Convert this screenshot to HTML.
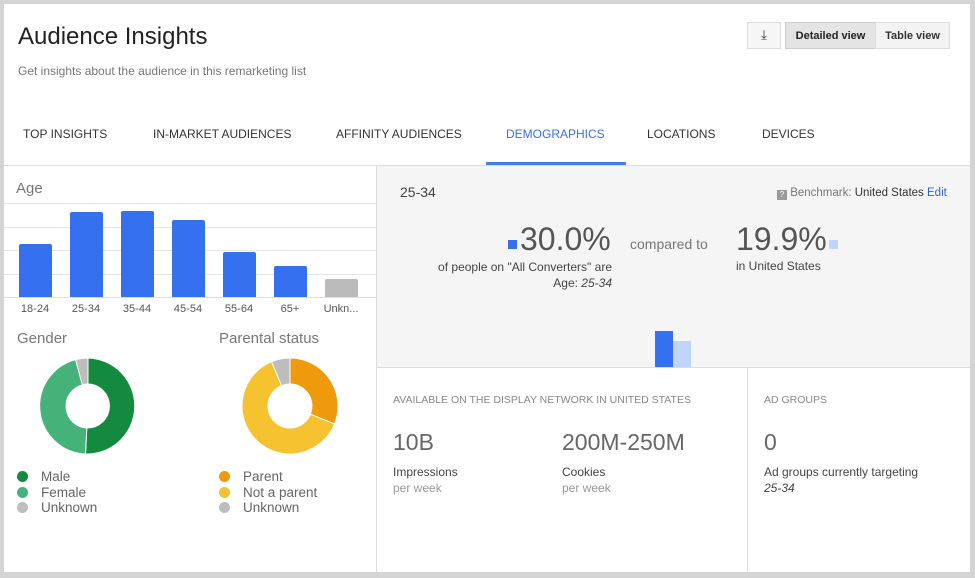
<!DOCTYPE html>
<html><head><meta charset="utf-8"><style>
*{margin:0;padding:0;box-sizing:border-box}
body{width:975px;height:578px;background:#d4d4d4;position:relative;font-family:"Liberation Sans",sans-serif;overflow:hidden}
.a{position:absolute;white-space:nowrap}
.tab{position:absolute;top:127px;font-size:12px;color:#333}
.g{position:absolute;left:4px;width:372px;height:1px;background:#e6e6e6}
.bar{position:absolute;background:#3570f0;border-radius:2px 2px 0 0;width:33px}
.lbl{position:absolute;top:303px;font-size:11px;color:#555;width:40px;text-align:center}
.dot{display:inline-block;width:11px;height:11px;border-radius:50%;margin-right:13px;vertical-align:-1px}
.leg{font-size:13.5px;color:#666;line-height:15.5px}
</style></head><body>
<div class="a" style="left:4px;top:4px;width:966px;height:568px;background:#fff"></div>
<div class="a" style="left:18px;top:23px;font-size:24px;color:#222">Audience Insights</div>
<div class="a" style="left:18px;top:64px;font-size:12px;color:#777">Get insights about the audience in this remarketing list</div>
<div class="a" style="left:747px;top:22px;width:34px;height:27px;border:1px solid #ddd;background:#f6f6f6;text-align:center;font-size:13px;line-height:24px;color:#333">⤓</div>
<div class="a" style="left:785px;top:22px;width:91px;height:27px;border:1px solid #ccc;background:#e4e4e4;font-size:11px;font-weight:bold;line-height:26px;text-align:center;color:#222">Detailed view</div>
<div class="a" style="left:875px;top:22px;width:75px;height:27px;border:1px solid #ddd;background:#f3f3f3;font-size:11px;font-weight:bold;line-height:26px;text-align:center;color:#333">Table view</div>
<div class="tab" style="left:23px">TOP INSIGHTS</div>
<div class="tab" style="left:153px">IN-MARKET AUDIENCES</div>
<div class="tab" style="left:336px">AFFINITY AUDIENCES</div>
<div class="tab" style="left:506px;color:#3570f0">DEMOGRAPHICS</div>
<div class="tab" style="left:647px">LOCATIONS</div>
<div class="tab" style="left:762px">DEVICES</div>
<div class="a" style="left:486px;top:162px;width:140px;height:3px;background:#3f7ff0"></div>
<div class="a" style="left:4px;top:165px;width:966px;height:1px;background:#ddd"></div>
<div class="a" style="left:376px;top:166px;width:1px;height:406px;background:#ddd"></div>
<div class="a" style="left:16px;top:180px;font-size:15px;color:#777">Age</div>
<div class="g" style="top:203px"></div><div class="g" style="top:227px"></div><div class="g" style="top:250px"></div><div class="g" style="top:274px"></div><div class="g" style="top:297px;background:#ddd"></div>
<div class="bar" style="left:19px;top:244px;height:53px"></div>
<div class="bar" style="left:70px;top:212px;height:85px"></div>
<div class="bar" style="left:121px;top:211px;height:86px"></div>
<div class="bar" style="left:172px;top:220px;height:77px"></div>
<div class="bar" style="left:223px;top:252px;height:45px"></div>
<div class="bar" style="left:274px;top:266px;height:31px"></div>
<div class="bar" style="left:325px;top:279px;height:18px;background:#bbb"></div>
<div class="lbl" style="left:15px">18-24</div><div class="lbl" style="left:66px">25-34</div><div class="lbl" style="left:117px">35-44</div><div class="lbl" style="left:168px">45-54</div><div class="lbl" style="left:219px">55-64</div><div class="lbl" style="left:270px">65+</div><div class="lbl" style="left:321px">Unkn...</div>
<div class="a" style="left:17px;top:330px;font-size:15px;color:#777">Gender</div>
<div class="a" style="left:219px;top:330px;font-size:15px;color:#777">Parental status</div>
<svg class="a" style="left:0;top:0" width="376" height="572">
<g stroke="#fff" stroke-width="1">
<path d="M88 358 A48 48 0 0 1 85.5 454 L86.8 428 A22 22 0 0 0 88 384Z" fill="#138a3e"/>
<path d="M85.5 454 A48 48 0 0 1 75.6 359.6 L82.3 384.8 A22 22 0 0 0 86.8 428Z" fill="#45b27a"/>
<path d="M75.6 359.6 A48 48 0 0 1 88 358 L88 384 A22 22 0 0 0 82.3 384.8Z" fill="#bdbdbd"/>
<path d="M290 358 A48 48 0 0 1 334.5 424 L310.4 414.2 A22 22 0 0 0 290 384Z" fill="#ef9a0c"/>
<path d="M334.5 424 A48 48 0 1 1 271.6 361.7 L281.6 385.7 A22 22 0 1 0 310.4 414.2Z" fill="#f5c230"/>
<path d="M271.6 361.7 A48 48 0 0 1 290 358 L290 384 A22 22 0 0 0 281.6 385.7Z" fill="#bdbdbd"/>
</g></svg>
<div class="a leg" style="left:17px;top:469px"><span class="dot" style="background:#138a3e"></span>Male<br><span class="dot" style="background:#45b27a"></span>Female<br><span class="dot" style="background:#bdbdbd"></span>Unknown</div>
<div class="a leg" style="left:219px;top:469px"><span class="dot" style="background:#ef9a0c"></span>Parent<br><span class="dot" style="background:#f5c230"></span>Not a parent<br><span class="dot" style="background:#bdbdbd"></span>Unknown</div>
<div class="a" style="left:377px;top:166px;width:593px;height:201px;background:#f5f5f5"></div>
<div class="a" style="left:377px;top:367px;width:593px;height:1px;background:#ddd"></div>
<div class="a" style="left:400px;top:184px;font-size:14px;color:#444">25-34</div>
<div class="a" style="left:777px;top:187px;font-size:11.5px;color:#777"><span style="display:inline-block;width:10px;height:10px;background:#999;color:#fff;font-size:8px;text-align:center;line-height:10px;vertical-align:-1px">?</span> Benchmark: <span style="color:#333">United States</span> <span style="color:#2a66d9">Edit</span></div>
<div class="a" style="left:508px;top:240px;width:9px;height:9px;background:#3570f0"></div>
<div class="a" style="left:520px;top:221px;font-size:32px;color:#555">30.0%</div>
<div class="a" style="left:612px;top:259px;font-size:12px;color:#444;text-align:right;transform:translateX(-100%);line-height:16px">of people on "All Converters" are<br>Age: <i>25-34</i></div>
<div class="a" style="left:630px;top:236px;font-size:14px;color:#777">compared to</div>
<div class="a" style="left:736px;top:221px;font-size:32px;color:#555">19.9%</div>
<div class="a" style="left:829px;top:240px;width:9px;height:9px;background:#c0d5fb"></div>
<div class="a" style="left:736px;top:259px;font-size:12px;color:#444">in United States</div>
<div class="a" style="left:655px;top:331px;width:18px;height:36px;background:#3570f0"></div>
<div class="a" style="left:673px;top:341px;width:18px;height:26px;background:#c0d5fb"></div>
<div class="a" style="left:747px;top:368px;width:1px;height:204px;background:#ddd"></div>
<div class="a" style="left:393px;top:394px;font-size:10.5px;color:#888">AVAILABLE ON THE DISPLAY NETWORK IN UNITED STATES</div>
<div class="a" style="left:393px;top:429px;font-size:23px;color:#666">10B</div>
<div class="a" style="left:393px;top:464px;font-size:12px;color:#444;line-height:16px">Impressions<br><span style="color:#999">per week</span></div>
<div class="a" style="left:562px;top:429px;font-size:23px;color:#666">200M-250M</div>
<div class="a" style="left:562px;top:464px;font-size:12px;color:#444;line-height:16px">Cookies<br><span style="color:#999">per week</span></div>
<div class="a" style="left:764px;top:394px;font-size:10.5px;color:#888">AD GROUPS</div>
<div class="a" style="left:764px;top:429px;font-size:23px;color:#666">0</div>
<div class="a" style="left:764px;top:464px;font-size:12px;color:#444;line-height:16px">Ad groups currently targeting<br><i>25-34</i></div>
</body></html>
